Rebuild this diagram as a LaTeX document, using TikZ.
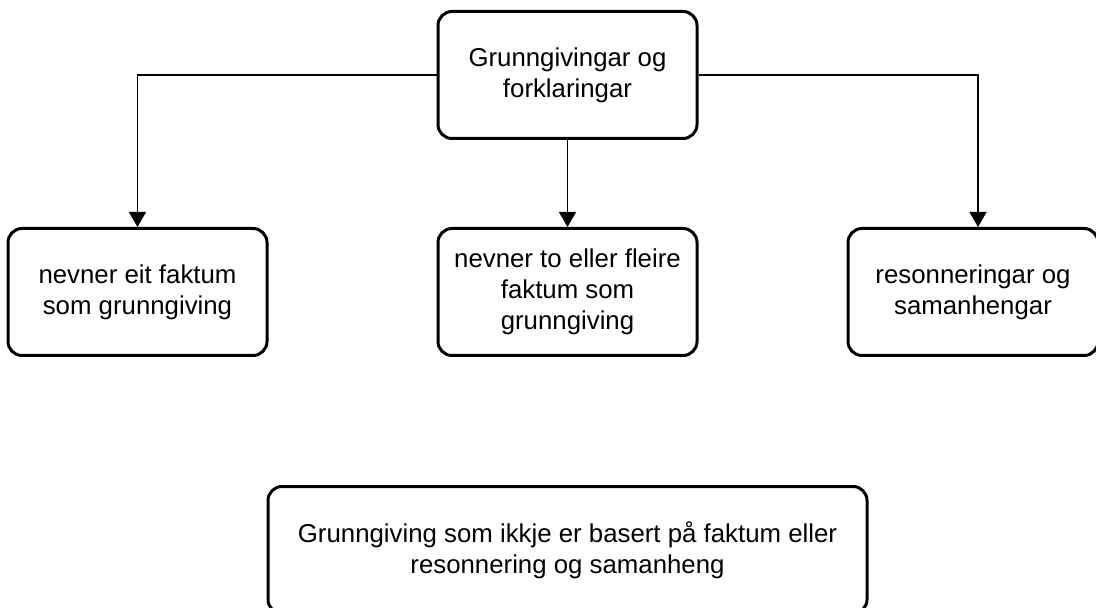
\documentclass[tikz,border=0pt]{standalone}
\usepackage{fontspec}
\setmainfont{Liberation Sans}
\usetikzlibrary{positioning,arrows.meta}

\begin{document}
\begin{tikzpicture}[
  x=0.5pt, y=-0.5pt,
  box/.style={draw, line width=1.5pt, rounded corners=7pt, minimum width=129.5pt, minimum height=63.5pt, inner sep=2pt, align=center, font=\fontsize{12.9}{15.5}\selectfont},
  arr/.style={-{Triangle[width=8.5pt,length=7.5pt]}, line width=0.65pt},
]
\useasboundingbox (0,0) rectangle (1096,608);
\node[box] (top) at (567.5,75) {Grunngivingar og\\ forklaringar};
\node[box, below=43.5pt of top] (mid) {nevner to eller fleire\\ faktum som\\ grunngiving};
\node[box, left=84pt of mid] (left) {nevner eit faktum\\ som grunngiving};
\node[box, right=74pt of mid, minimum width=125pt] (right) {resonneringar og\\ samanhengar};
\node[box, below=64pt of mid, minimum width=299.5pt] (bottom) {Grunngiving som ikkje er basert på faktum eller\\ resonnering og samanheng};
\draw[arr] (top.west) -| (left.north);
\draw[arr] (top) -- (mid);
\draw[arr] (top.east) -| ([xshift=2.5pt]right.north);
\end{tikzpicture}
\end{document}
